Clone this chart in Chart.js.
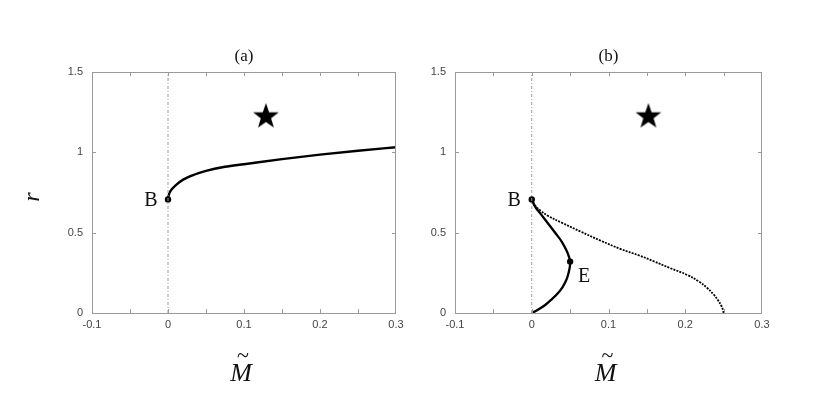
<!DOCTYPE html>
<html>
<head>
<meta charset="utf-8">
<script src="https://cdn.jsdelivr.net/npm/chart.js@4.4.1/dist/chart.umd.min.js"></script>
<style>
  html, body { margin: 0; padding: 0; background: #fff; }
  #wrap { position: relative; width: 822px; height: 393px; }
  .panel { position: absolute; top: 0; width: 411px; height: 393px; }
</style>
</head>
<body>
<div id="wrap">
  <div class="panel" style="left:0"><canvas id="chart-a" width="411" height="393"></canvas></div>
  <div class="panel" style="left:411px"><canvas id="chart-b" width="411" height="393"></canvas></div>
</div>
<script>
// --- axis ticks ---
const xTicks = [-0.1, 0, 0.1, 0.2, 0.3];
const yTicks = [0, 0.5, 1, 1.5];
const minorX = [-0.05, 0, 0.05, 0.1, 0.15, 0.2, 0.25];
const minorY = [0.5, 1];

// --- panel (a): stable branch from B ---
const branchA_M = [0, 0.0003, 0.001, 0.002, 0.005, 0.01, 0.02, 0.035, 0.05, 0.075, 0.1, 0.15, 0.2, 0.25, 0.3];
const branchA_r = [0.707, 0.72, 0.733, 0.748, 0.77, 0.795, 0.83, 0.862, 0.885, 0.91, 0.926, 0.958, 0.986, 1.01, 1.032];

// --- panel (b): solid branch B -> E -> origin ---
const solidB_M = [0, 0.0045, 0.011, 0.02, 0.031, 0.039, 0.045, 0.0485, 0.05, 0.0497, 0.048, 0.045, 0.04, 0.034, 0.026, 0.0175, 0.008, 0];
const solidB_r = [0.707, 0.66, 0.62, 0.565, 0.496, 0.445, 0.392, 0.35, 0.32, 0.29, 0.25, 0.205, 0.16, 0.123, 0.085, 0.05, 0.02, 0];

// --- panel (b): dotted branch B -> (0.25, 0) ---
const dottedB_M = [0, 0.005, 0.012, 0.021, 0.04, 0.064, 0.09, 0.116, 0.14, 0.16, 0.18, 0.203, 0.218, 0.229, 0.237, 0.2425, 0.247, 0.249, 0.25];
const dottedB_r = [0.707, 0.665, 0.635, 0.605, 0.56, 0.506, 0.45, 0.398, 0.358, 0.32, 0.28, 0.236, 0.195, 0.154, 0.115, 0.081, 0.045, 0.02, 0];

// special points
const pointB = [0, 0.707];
const pointE = [0.05, 0.32];
const starA = [0.1288, 1.223];
const starB = [0.152, 1.223];

const pts = (xs, ys) => xs.map((v, i) => ({ x: v, y: ys[i] }));

// filled star marker
const starImg = document.createElement('canvas');
starImg.width = 30; starImg.height = 30;
(() => {
  const c = starImg.getContext('2d');
  const R = 13.5, r = 5.4;
  c.beginPath();
  for (let k = 0; k < 10; k++) {
    const rad = k % 2 ? r : R;
    const ang = -Math.PI / 2 + k * Math.PI / 5;
    c.lineTo(15 + rad * Math.cos(ang), 15 + rad * Math.sin(ang));
  }
  c.closePath();
  c.fillStyle = '#000';
  c.fill();
})();

// frame, inward ticks, titles and labels
const decor = {
  id: 'decor',
  afterDraw(chart, args, opts) {
    const { ctx, chartArea: a, scales: { x, y } } = chart;
    ctx.save();
    ctx.strokeStyle = '#9a9a9a';
    ctx.lineWidth = 1;
    ctx.strokeRect(a.left + 0.5, a.top + 0.5, a.right - a.left - 1, a.bottom - a.top);
    ctx.beginPath();
    minorX.forEach(v => {
      const px = Math.round(x.getPixelForValue(v)) + 0.5;
      ctx.moveTo(px, a.bottom); ctx.lineTo(px, a.bottom - 4);
      ctx.moveTo(px, a.top); ctx.lineTo(px, a.top + 4);
    });
    minorY.forEach(v => {
      const py = Math.round(y.getPixelForValue(v)) + 0.5;
      ctx.moveTo(a.left, py); ctx.lineTo(a.left + 4, py);
      ctx.moveTo(a.right, py); ctx.lineTo(a.right - 4, py);
    });
    ctx.stroke();

    const cx = (a.left + a.right) / 2;
    ctx.fillStyle = '#111';
    ctx.textAlign = 'center';
    ctx.textBaseline = 'middle';
    ctx.font = "17px 'Liberation Serif'";
    ctx.fillText(opts.title, cx, 57);

    // x axis title: M with tilde
    ctx.font = "italic 26px 'Liberation Serif'";
    ctx.textBaseline = 'alphabetic';
    ctx.fillText('M', cx - 3, 381);
    ctx.font = "22px 'Liberation Serif'";
    ctx.textBaseline = 'middle';
    ctx.fillText('~', cx - 1, 356);

    if (opts.yTitle) {
      ctx.save();
      ctx.translate(33, 197);
      ctx.rotate(-Math.PI / 2);
      ctx.font = "italic 24px 'Liberation Serif'";
      ctx.fillText(opts.yTitle, 0, 0);
      ctx.restore();
    }

    ctx.font = "20px 'Liberation Serif'";
    opts.labels.forEach(l => {
      ctx.fillText(l.text, x.getPixelForValue(l.at[0]) + l.dx, y.getPixelForValue(l.at[1]) + l.dy);
    });
    ctx.restore();
  }
};

function makeChart(id, cfg) {
  const tickFont = { family: 'Liberation Sans', size: 11 };
  return new Chart(document.getElementById(id), {
    type: 'scatter',
    data: { datasets: cfg.datasets },
    options: {
      responsive: false,
      animation: false,
      layout: { padding: { left: 0, right: cfg.padRight, top: 72, bottom: 0 } },
      plugins: { legend: { display: false }, tooltip: { enabled: false }, decor: cfg.decor },
      scales: {
        x: {
          type: 'linear', min: -0.1, max: 0.3,
          grid: { display: false, drawTicks: false },
          border: { display: false },
          afterBuildTicks: s => { s.ticks = xTicks.map(v => ({ value: v })); },
          afterFit: s => { s.height = 80; },
          ticks: { padding: 5, color: '#444', font: tickFont, maxRotation: 0, autoSkip: false, callback: v => String(v) }
        },
        y: {
          type: 'linear', min: 0, max: 1.5,
          grid: { display: false, drawTicks: false },
          border: { display: false },
          afterBuildTicks: s => { s.ticks = yTicks.map(v => ({ value: v })); },
          afterFit: s => { s.width = cfg.yWidth; },
          ticks: { padding: 9, color: '#444', font: tickFont, autoSkip: false, callback: v => String(v) }
        }
      }
    },
    plugins: [decor]
  });
}

const vline = () => ({
  data: [{ x: 0, y: 0 }, { x: 0, y: 1.5 }],
  showLine: true, borderColor: '#9a9a9a', borderWidth: 1,
  borderDash: [3, 2, 1, 2], pointRadius: 0
});
const dot = p => ({
  data: [{ x: p[0], y: p[1] }], pointRadius: 3.2,
  backgroundColor: '#000', borderColor: '#000', borderWidth: 0
});
const star = p => ({
  data: [{ x: p[0], y: p[1] }], pointStyle: starImg, pointRadius: 14
});

makeChart('chart-a', {
  padRight: 13, yWidth: 92,
  decor: { title: '(a)', yTitle: 'r', labels: [{ text: 'B', at: pointB, dx: -17, dy: 1 }] },
  datasets: [
    vline(),
    { data: pts(branchA_M, branchA_r), showLine: true, borderColor: '#000', borderWidth: 2.4,
      pointRadius: 0, cubicInterpolationMode: 'monotone' },
    dot(pointB),
    star(starA)
  ]
});

makeChart('chart-b', {
  padRight: 60, yWidth: 44,
  decor: { title: '(b)', yTitle: null, labels: [
    { text: 'B', at: pointB, dx: -17.5, dy: 1 },
    { text: 'E', at: pointE, dx: 14, dy: 15 }
  ] },
  datasets: [
    vline(),
    { data: pts(dottedB_M, dottedB_r), showLine: true, borderColor: '#000', borderWidth: 1.8,
      borderDash: [2, 1.2], pointRadius: 0, tension: 0.4 },
    { data: pts(solidB_M, solidB_r), showLine: true, borderColor: '#000', borderWidth: 2.3,
      pointRadius: 0, tension: 0.4 },
    dot(pointB),
    dot(pointE),
    star(starB)
  ]
});
</script>
</body>
</html>
